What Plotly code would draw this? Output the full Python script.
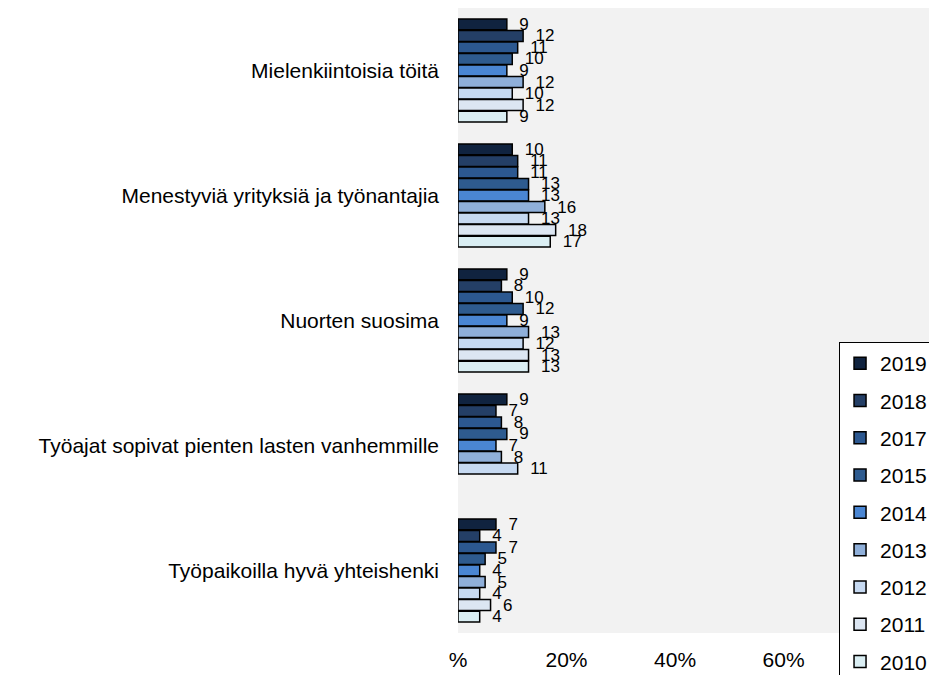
import plotly.graph_objects as go

categories = [
    "Mielenkiintoisia töitä",
    "Menestyviä yrityksiä ja työnantajia",
    "Nuorten suosima",
    "Työajat sopivat pienten lasten vanhemmille",
    "Työpaikoilla hyvä yhteishenki",
]
years = ["2019", "2018", "2017", "2015", "2014", "2013", "2012", "2011", "2010"]
values = {
    "2019": [9, 10, 9, 9, 7],
    "2018": [12, 11, 8, 7, 4],
    "2017": [11, 11, 10, 8, 7],
    "2015": [10, 13, 12, 9, 5],
    "2014": [9, 13, 9, 7, 4],
    "2013": [12, 16, 13, 8, 5],
    "2012": [10, 13, 12, 11, 4],
    "2011": [12, 18, 13, None, 6],
    "2010": [9, 17, 13, None, 4],
}
colors = {
    "2019": "#10233F",
    "2018": "#243F66",
    "2017": "#2C5890",
    "2015": "#2E5B8F",
    "2014": "#4A86D3",
    "2013": "#8FAFD9",
    "2012": "#C6D9F1",
    "2011": "#DCE6F2",
    "2010": "#DAEEF3",
}
tickvals = [0, 20, 40, 60]
ticktext = ["%", "20%", "40%", "60%"]

FONT = "Liberation Sans, Arial, sans-serif"
fig = go.Figure()
for y in years:
    vals = values[y]
    fig.add_trace(go.Bar(
        name=y,
        x=vals,
        y=categories,
        orientation="h",
        legendgroup=y,
        marker=dict(color=colors[y], line=dict(color="#000000", width=1.5)),
        text=[("  " + str(v)) if v is not None else "" for v in vals],
        textposition="outside",
        constraintext="none",
        textfont=dict(family=FONT, size=17, color="#000000"),
        cliponaxis=False,
    ))

fig.update_layout(
    width=921, height=667,
    margin=dict(l=450, r=0, t=0, b=42, autoexpand=False),
    paper_bgcolor="#FFFFFF",
    plot_bgcolor="#F2F2F2",
    barmode="group",
    bargap=0.17,
    bargroupgap=0.05,
    font=dict(family=FONT, size=21, color="#000000"),
    showlegend=True,
    legend=dict(
        x=0.809, xanchor="left", y=0.4656, yanchor="top",
        bgcolor="#FFFFFF", bordercolor="#000000", borderwidth=1,
        font=dict(family=FONT, size=21),
        tracegroupgap=7,
        traceorder="grouped",
    ),
)
fig.update_xaxes(
    range=[0, 86.8], tickvals=tickvals, ticktext=ticktext,
    showgrid=False, zeroline=False, showline=False,
    ticks="", ticklabelstandoff=12,
)
fig.update_yaxes(
    autorange="reversed", showgrid=False, zeroline=False, showline=False,
    ticks="", ticklabelstandoff=18,
)
fig.write_html("out.html")
